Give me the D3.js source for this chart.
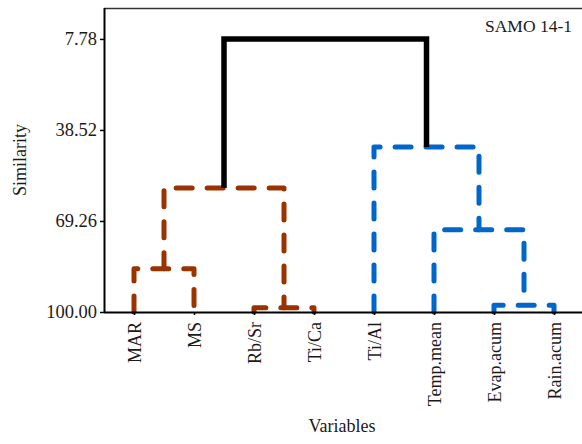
<!DOCTYPE html>
<meta charset="utf-8">
<style>
body { margin: 0; background: #fff; }
text { font-family: "Liberation Serif", "DejaVu Serif", serif; fill: #1a1a1a; }
.link { fill: none; stroke-width: 5px; stroke-linecap: round; stroke-linejoin: round; }
.dashed { stroke-dasharray: 16, 15; }
</style>
<script src="https://cdn.jsdelivr.net/npm/d3@7"></script>
<body>
<script>

var width = 582,
    height = 444;

// leaves in dendrogram order
var variables = ["MAR", "MS", "Rb/Sr", "Ti/Ca", "Ti/Al", "Temp.mean", "Evap.acum", "Rain.acum"];

// merge steps: cluster C1..C7 formed by joining linkA and linkB at linkSimilarity
var linkA = ["MAR", "Rb/Sr", "Evap.acum", "C1", "Temp.mean", "Ti/Al", "C4"];
var linkB = ["MS", "Ti/Ca", "Rain.acum", "C2", "C3", "C5", "C6"];
var linkSimilarity = [85.4, 98.6, 97.7, 58.1, 72.2, 44.3, 7.78];

var yTicks = [7.78, 38.52, 69.26, 100.00];

var margin = {left: 104, top: 8, bottom: 312};

var svg = d3.select("body").append("svg")
    .attr("width", width)
    .attr("height", height);

var x = d3.scalePoint()
    .domain(variables)
    .range([margin.left, 584])
    .padding(0.5);

var y = d3.scaleLinear()
    .domain([-2.67, 100])
    .range([margin.top, margin.bottom]);

// position of every node (leaf or cluster)
var nodes = {};
variables.forEach(function(v) { nodes[v] = {x: x(v), h: 100}; });

var links = linkA.map(function(a, i) {
  var id = "C" + (i + 1);
  var na = nodes[a], nb = nodes[linkB[i]];
  nodes[id] = {x: (na.x + nb.x) / 2, h: linkSimilarity[i]};
  return {a: na, b: nb, h: linkSimilarity[i], id: id};
});

// colour groups: the two clusters under the root
function groupColor(d) {
  if (d.id === "C7") return "#000";
  var leftIds = ["C1", "C2", "C4"];
  return leftIds.indexOf(d.id) >= 0 ? "#993300" : "#0066cc";
}

// frame
svg.append("line")
    .attr("x1", margin.left).attr("x2", width)
    .attr("y1", margin.top + 0.5).attr("y2", margin.top + 0.5)
    .attr("stroke", "#333").attr("stroke-width", 1.5);

svg.selectAll("path.link")
    .data(links)
    .enter().append("path")
      .attr("class", function(d) { return d.id === "C7" ? "link" : "link dashed"; })
      .attr("stroke", groupColor)
      .style("stroke-width", function(d) { return d.id === "C7" ? "5.5px" : null; })
      .style("stroke-linecap", function(d) { return d.id === "C7" ? "butt" : null; })
      .style("stroke-linejoin", function(d) { return d.id === "C7" ? "miter" : null; })
      .attr("d", function(d) {
        return "M" + d.a.x + "," + y(d.a.h) +
               "V" + y(d.h) + "H" + d.b.x + "V" + y(d.b.h);
      });

// axes
var yAxis = d3.axisLeft(y)
    .tickValues(yTicks)
    .tickFormat(d3.format(".2f"))
    .tickSize(4)
    .tickPadding(3);

var gy = svg.append("g")
    .attr("transform", "translate(" + margin.left + ",0)")
    .call(yAxis);
gy.select(".domain").attr("d", "M0.5," + margin.top + "V" + margin.bottom)
    .attr("stroke", "#000").attr("stroke-width", 2);
gy.selectAll(".tick line").attr("stroke-width", 1.5);
gy.selectAll(".tick text").style("font-size", "18.5px").attr("fill", "#1a1a1a");

var xAxis = d3.axisBottom(x).tickSize(3).tickPadding(6);

var gx = svg.append("g")
    .attr("transform", "translate(0," + margin.bottom + ")")
    .call(xAxis);
gx.select(".domain").attr("d", "M" + margin.left + ",0.5H" + width)
    .attr("stroke", "#000").attr("stroke-width", 2);
gx.selectAll(".tick line").attr("stroke-width", 1.5);
gx.selectAll(".tick text")
    .style("font-size", "18px")
    .attr("fill", "#1a1a1a")
    .attr("text-anchor", "end")
    .attr("transform", "rotate(-90)")
    .attr("x", -10)
    .attr("y", 0)
    .attr("dy", "0.35em");

// titles
svg.append("text")
    .attr("transform", "translate(26,160) rotate(-90)")
    .attr("text-anchor", "middle")
    .style("font-size", "18px")
    .text("Similarity");

svg.append("text")
    .attr("x", 342)
    .attr("y", 432)
    .attr("text-anchor", "middle")
    .style("font-size", "18px")
    .text("Variables");

svg.append("text")
    .attr("x", 572)
    .attr("y", 32)
    .attr("text-anchor", "end")
    .style("font-size", "17.5px")
    .text("SAMO 14-1");

</script>
</body>
